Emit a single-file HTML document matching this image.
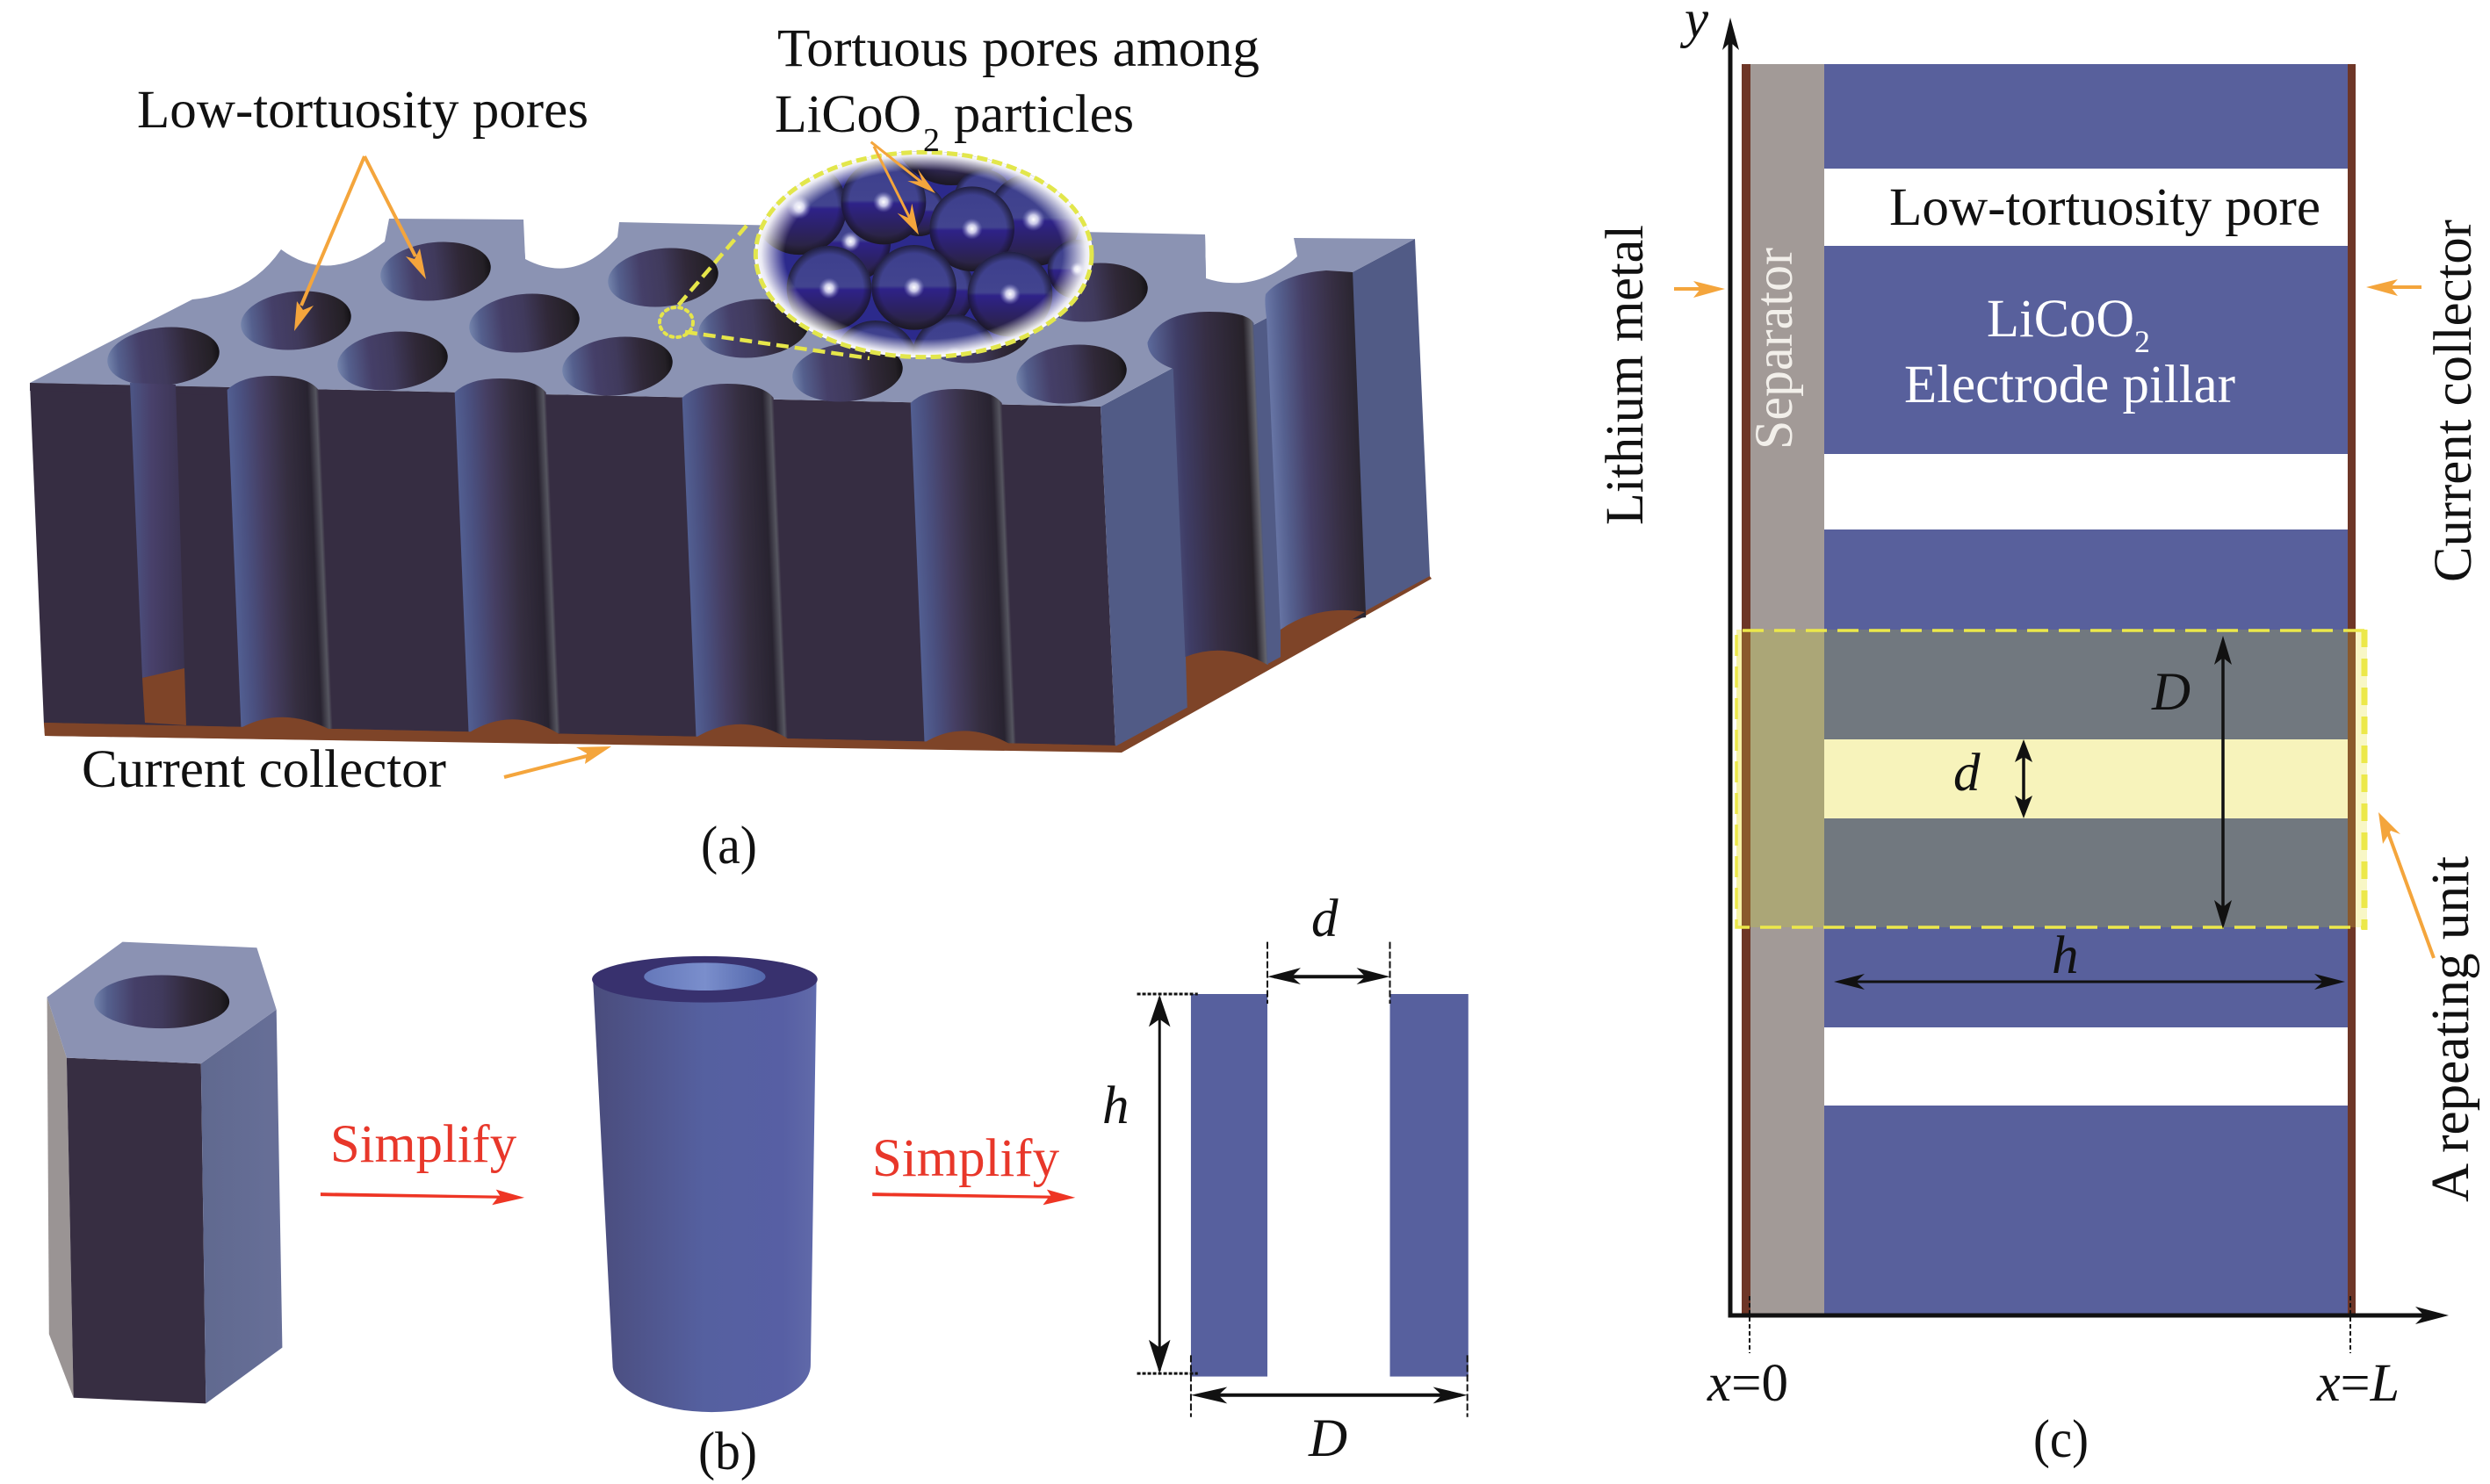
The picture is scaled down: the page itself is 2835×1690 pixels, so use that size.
<!DOCTYPE html>
<html><head><meta charset="utf-8"><title>Low-tortuosity electrode diagram</title>
<style>
html,body{margin:0;padding:0;background:#fff}
svg{display:block}
text{font-family:"Liberation Serif",serif;font-size:61px;fill:#111}
.i{font-style:italic}
.ns{vector-effect:non-scaling-stroke}
</style></head><body>
<svg xmlns="http://www.w3.org/2000/svg" width="2835" height="1690" viewBox="0 0 2835 1690">
<defs>
<linearGradient id="hole"><stop offset="0" stop-color="#7484ac"/><stop offset=".1" stop-color="#55608e"/><stop offset=".3" stop-color="#453f68"/><stop offset=".5" stop-color="#403a5c"/><stop offset=".72" stop-color="#302838"/><stop offset=".93" stop-color="#242026"/><stop offset="1" stop-color="#131115"/></linearGradient>
<linearGradient id="pore"><stop offset="0" stop-color="#525f92"/><stop offset=".15" stop-color="#4a5080"/><stop offset=".35" stop-color="#453e62"/><stop offset=".62" stop-color="#352e40"/><stop offset=".88" stop-color="#282330"/><stop offset=".97" stop-color="#55555f"/><stop offset="1" stop-color="#3a3145"/></linearGradient>
<linearGradient id="p1"><stop offset="0" stop-color="#4c5686"/><stop offset=".4" stop-color="#48406a"/><stop offset="1" stop-color="#3a3350"/></linearGradient>
<linearGradient id="p6"><stop offset="0" stop-color="#5c6a9c"/><stop offset=".28" stop-color="#3f3d66"/><stop offset=".55" stop-color="#362e44"/><stop offset=".9" stop-color="#27222a"/><stop offset=".98" stop-color="#62626a"/><stop offset="1" stop-color="#4e5880"/></linearGradient>
<linearGradient id="p7"><stop offset="0" stop-color="#6a78a8"/><stop offset=".16" stop-color="#55608f"/><stop offset=".42" stop-color="#453f66"/><stop offset=".75" stop-color="#372f44"/><stop offset="1" stop-color="#2a2530"/></linearGradient>
<linearGradient id="hexR"><stop offset="0" stop-color="#60698f"/><stop offset="1" stop-color="#676f98"/></linearGradient>
<linearGradient id="cyl"><stop offset="0" stop-color="#4a4c7c"/><stop offset=".5" stop-color="#5560a0"/><stop offset=".85" stop-color="#575fa4"/><stop offset=".97" stop-color="#5f68a8"/><stop offset="1" stop-color="#5f6cb0"/></linearGradient>
<linearGradient id="cylIn"><stop offset="0" stop-color="#6578ba"/><stop offset=".5" stop-color="#7a8ecc"/><stop offset="1" stop-color="#5468ac"/></linearGradient>
<linearGradient id="sph" x1="0" y1="0" x2="0" y2="1"><stop offset="0" stop-color="#3c3e8c"/><stop offset=".48" stop-color="#42448f"/><stop offset=".52" stop-color="#2e2288"/><stop offset=".75" stop-color="#2c2262"/><stop offset="1" stop-color="#2a2533"/></linearGradient>
<radialGradient id="sphE"><stop offset=".8" stop-color="#15121f" stop-opacity="0"/><stop offset="1" stop-color="#15121f" stop-opacity=".7"/></radialGradient>
<radialGradient id="hl"><stop offset="0" stop-color="#fff"/><stop offset=".4" stop-color="#eeeeff" stop-opacity=".8"/><stop offset="1" stop-color="#8888cc" stop-opacity="0"/></radialGradient>
<radialGradient id="glow"><stop offset=".82" stop-color="#fff" stop-opacity="0"/><stop offset=".96" stop-color="#fff" stop-opacity=".9"/><stop offset="1" stop-color="#fff"/></radialGradient>
<clipPath id="mag"><ellipse cx="755" cy="420" rx="578" ry="352"/></clipPath>
<g id="b"><circle r="145" fill="url(#sph)"/><circle r="145" fill="url(#sphE)"/></g>
<g id="s"><use href="#b"/><circle r="36" fill="url(#hl)"/></g>
<path id="fp" d="M0,16 Q17,0 52,0 Q92,0 104,16 L104,404 L0,404 Z" fill="url(#pore)"/>
</defs>

<!-- PANEL A -->
<polygon points="34,436 1253,463 1270,850 50,825" fill="#362d42"/>
<polygon points="50,823 1270,849 1627,655 1630,659 1277,857 1265,856 51,838" fill="#7e4428"/>
<polygon points="1253,463 1611,272 1628,656 1270,850" fill="#515b86"/>
<path d="M578,273 Q580,255 595,250 L598,295 Q583,290 578,273 Z" fill="#5a6a9a"/>
<path d="M1350,292 Q1352,272 1372,267 L1373,317 Q1352,310 1350,292 Z" fill="#5a6a9a"/>
<path d="M34,436 L219,341 Q285,335 320,284 Q375,325 438,275 L443,249 L596,250 L598,295 Q655,325 703,270 L705,253 L1372,267 L1373,317 Q1430,335 1477,292 L1473,271 L1611,272 L1253,463 Z" fill="#8b93b3"/>
<g fill="url(#hole)">
<ellipse cx="186" cy="406" rx="64" ry="33" transform="rotate(-6 186 406)"/>
<ellipse cx="337" cy="365" rx="63" ry="33" transform="rotate(-6 337 365)"/>
<ellipse cx="496" cy="309" rx="63" ry="33" transform="rotate(-6 496 309)"/>
<ellipse cx="447" cy="411" rx="63" ry="33" transform="rotate(-6 447 411)"/>
<ellipse cx="597" cy="368" rx="63" ry="33" transform="rotate(-6 597 368)"/>
<ellipse cx="755" cy="316" rx="63" ry="33" transform="rotate(-6 755 316)"/>
<ellipse cx="703" cy="417" rx="63" ry="33" transform="rotate(-6 703 417)"/>
<ellipse cx="858" cy="374" rx="63" ry="33" transform="rotate(-6 858 374)"/>
<ellipse cx="965" cy="424" rx="63" ry="33" transform="rotate(-6 965 424)"/>
<ellipse cx="1111" cy="380" rx="63" ry="33" transform="rotate(-6 1111 380)"/>
<ellipse cx="1220" cy="426" rx="63" ry="33" transform="rotate(-6 1220 426)"/>
<ellipse cx="1244" cy="333" rx="63" ry="33" transform="rotate(-6 1244 333)"/>
</g>
<!-- front face mask for hole 1 overflow -->
<polygon points="34,436 260,441 260,450 34,445" fill="#362d42"/>
<!-- front pores -->
<path d="M148,436 L200,438 L210,762 L162,772 Z" fill="url(#p1)"/>
<polygon points="162,772 210,761 212,826 165,823" fill="#7e4428"/>
<use href="#fp" transform="translate(258,428) skewX(2.35)"/>
<use href="#fp" transform="translate(517,431) skewX(2.35)"/>
<use href="#fp" transform="translate(776,437) skewX(2.35)"/>
<use href="#fp" transform="translate(1036,443) skewX(2.35)"/>
<!-- cover pore bottoms below base line with base strip + brown caps -->
<polygon points="50,823 1270,849 1277,857 51,838" fill="#7e4428"/>
<g fill="#7e4428">
<path d="M274,829 Q322,803 378,832 Z"/>
<path d="M533,835 Q585,802 640,838 Z"/>
<path d="M792,840 Q845,808 900,843 Z"/>
<path d="M1052,846 Q1100,816 1158,852 Z"/>
</g>
<!-- right pores -->
<path d="M2,55 Q0,35 2,27 Q22,4 72,0 L102,2 L102,395 L4,409 Z" transform="translate(1438,308) skewX(2.2)" fill="url(#p7)"/>
<path d="M1458,717 Q1500,688 1554,697 L1458,752 Z" fill="#7e4428"/>
<path d="M28,65 Q0,55 0,35 Q15,0 72,0 Q115,0 122,13 L122,402 L28,393 Z" transform="translate(1305,355) skewX(2.4)" fill="url(#p6)"/>
<path d="M1350,748 Q1395,730 1443,757 L1352,814 Z" fill="#7e4428"/>
<!-- orange arrows a -->
<g stroke="#f4a53c" stroke-width="4" fill="none">
<line x1="415" y1="178" x2="343" y2="348"/>
<line x1="415" y1="178" x2="473" y2="292"/>
<line x1="574" y1="885" x2="680" y2="858"/>
</g>
<g fill="#f4a53c">
<polygon points="335,377 338,343 345,353 357,348"/>
<polygon points="485,318 462,292 472,295 478,283"/>
<polygon points="696,850 656,851 668,858 666,870"/>
</g>
<!-- zoom dashes -->
<g fill="none" stroke="#e6e64a" stroke-width="4.5" stroke-dasharray="14 7">
<line x1="850" y1="257" x2="772" y2="348"/>
<line x1="780" y1="378" x2="990" y2="408"/>
</g>
<ellipse cx="770" cy="367" rx="19" ry="17" fill="none" stroke="#e6e64a" stroke-width="4" stroke-dasharray="3 5" stroke-linecap="round"/>

<!-- magnifier -->
<g transform="translate(800,150) scale(.3333)">
<ellipse cx="755" cy="420" rx="578" ry="352" fill="#2c2a8c"/>
<g clip-path="url(#mag)">
<use href="#b" transform="translate(850,-20) scale(1.4)"/>
<use href="#b" transform="translate(960,230) scale(.7)"/>
<use href="#s" transform="translate(1130,300) scale(1.1)"/>
<use href="#s" transform="translate(505,375) scale(.95)"/>
<use href="#s" transform="translate(330,258) scale(1.12)"/>
<use href="#b" transform="translate(740,270) scale(.6)"/>
<use href="#b" transform="translate(790,540) scale(.95)"/>
<use href="#s" transform="translate(1280,470) scale(.7)"/>
<use href="#s" transform="translate(618,240) scale(1)"/>
<use href="#s" transform="translate(920,332)"/>
<use href="#b" transform="translate(590,790)"/>
<use href="#s" transform="translate(860,770)"/>
<use href="#s" transform="translate(432,535)"/>
<use href="#s" transform="translate(1050,555) scale(1)"/>
<use href="#s" transform="translate(722,532)"/>
</g>
<ellipse cx="755" cy="420" rx="578" ry="352" fill="url(#glow)"/>
<ellipse cx="755" cy="420" rx="574" ry="350" fill="none" stroke="#e2e64c" stroke-width="15" stroke-dasharray="36 16"/>
<g stroke="#f4a53c" stroke-width="9" fill="none">
<line x1="575" y1="35" x2="770" y2="190"/>
<line x1="585" y1="50" x2="725" y2="330"/>
</g>
<g fill="#f4a53c">
<polygon points="795,210 700,168 750,170 735,128"/>
<polygon points="738,352 665,278 705,295 715,245"/>
</g>
</g>

<!-- PANEL B -->
<g transform="translate(0,1000) scale(1.116,0.44)">
<polygon points="48,308 68,465 75,1345 50,1180" fill="#9a9494"/>
<polygon points="68,465 205,480 210,1360 75,1345" fill="#372e42"/>
<polygon points="205,480 282,340 288,1215 210,1360" fill="url(#hexR)"/>
<polygon points="125,165 262,180 282,340 205,480 68,465 48,308" fill="#8b92b3"/>
<ellipse cx="165" cy="320" rx="69" ry="69" fill="url(#hole)"/>
<path d="M605,262 L625,1260 A101,122 0 0 0 827,1260 L833,262 Z" fill="url(#cyl)"/>
<ellipse cx="719" cy="262" rx="115" ry="60" fill="#38316e"/>
<ellipse cx="719" cy="255" rx="62" ry="36" fill="url(#cylIn)"/>
<rect x="1215" y="300" width="78" height="990" fill="#57609e"/>
<rect x="1418" y="300" width="80" height="990" fill="#57609e"/>
<g fill="#ee3524">
<polygon points="327,814 510,822 506,806 535,827 502,846 507,829 327,823"/>
<polygon points="890,814 1072,822 1068,806 1097,827 1064,846 1069,829 890,823"/>
</g>
<g stroke="#111" fill="none">
<line class="ns" x1="1160" y1="300" x2="1222" y2="300" stroke-width="3" stroke-dasharray="4 2"/>
<line class="ns" x1="1160" y1="1282" x2="1222" y2="1282" stroke-width="3" stroke-dasharray="4 2"/>
<line class="ns" x1="1293" y1="165" x2="1293" y2="325" stroke-width="2" stroke-dasharray="8 3"/>
<line class="ns" x1="1418" y1="165" x2="1418" y2="325" stroke-width="2" stroke-dasharray="8 3"/>
<line class="ns" x1="1215" y1="1235" x2="1215" y2="1395" stroke-width="2" stroke-dasharray="8 3"/>
<line class="ns" x1="1497" y1="1235" x2="1497" y2="1395" stroke-width="2" stroke-dasharray="8 3"/>
<line class="ns" x1="1183" y1="310" x2="1183" y2="1275" stroke-width="3"/>
<line class="ns" x1="1300" y1="255" x2="1410" y2="255" stroke-width="4"/>
<line class="ns" x1="1225" y1="1338" x2="1490" y2="1338" stroke-width="4"/>
</g>
<g fill="#111">
<polygon points="1183,302 1172,385 1183,365 1194,385"/>
<polygon points="1183,1282 1172,1195 1183,1215 1194,1195"/>
<polygon points="1293,255 1327,232 1318,255 1327,275"/>
<polygon points="1418,255 1384,232 1393,255 1384,275"/>
<polygon points="1215,1338 1252,1317 1243,1338 1252,1360"/>
<polygon points="1497,1338 1462,1317 1471,1338 1462,1360"/>
</g>
</g>

<!-- PANEL C -->
<rect x="1983" y="73" width="10" height="1425" fill="#6e3627"/>
<rect x="1993" y="73" width="84" height="1425" fill="#a29a97"/>
<rect x="2077" y="73" width="596" height="1425" fill="#58609c"/>
<rect x="2673" y="73" width="9" height="1425" fill="#6e3627"/>
<rect x="2077" y="192" width="596" height="88" fill="#fff"/>
<rect x="2077" y="517" width="596" height="86" fill="#fff"/>
<rect x="2077" y="1170" width="596" height="89" fill="#fff"/>
<rect x="2077" y="717" width="596" height="339" fill="#71787f"/>
<rect x="2077" y="842" width="596" height="90" fill="#f7f3bb"/>
<rect x="1993" y="717" width="84" height="339" fill="#aba677"/>
<rect x="1983" y="717" width="10" height="339" fill="#8a5a2c"/>
<rect x="2673" y="717" width="9" height="339" fill="#8a5a2c"/>
<rect x="1977" y="717" width="6" height="339" fill="#f6f3a8"/>
<rect x="2682" y="717" width="13" height="339" fill="#f8f7c6"/>
<path d="M2692,718 H1977 V1056 H2692" fill="none" stroke="#ece84a" stroke-width="3.5" stroke-dasharray="24 12"/>
<line x1="2692" y1="717" x2="2692" y2="1059" stroke="#ece84a" stroke-width="7" stroke-dasharray="20 13"/>
<g stroke="#111" fill="none">
<path d="M1970,40 V1498 H2770" stroke-width="5"/>
<line x1="1992" y1="1476" x2="1992" y2="1541" stroke-width="2" stroke-dasharray="5 3"/>
<line x1="2676" y1="1476" x2="2676" y2="1541" stroke-width="2" stroke-dasharray="5 3"/>
<line x1="2531" y1="736" x2="2531" y2="1046" stroke-width="3.5"/>
<line x1="2304" y1="851" x2="2304" y2="923" stroke-width="3.5"/>
<line x1="2095" y1="1118" x2="2660" y2="1118" stroke-width="3"/>
</g>
<g fill="#111">
<polygon points="1970,20 1961,57 1970,48 1980,57"/>
<polygon points="2788,1498 2750,1488 2760,1498 2750,1508"/>
<polygon points="2531,724 2521,757 2531,749 2541,757"/>
<polygon points="2531,1058 2521,1025 2531,1033 2541,1025"/>
<polygon points="2304,842 2294,868 2304,862 2314,868"/>
<polygon points="2304,932 2294,906 2304,912 2314,906"/>
<polygon points="2088,1118 2123,1109 2113,1118 2123,1127"/>
<polygon points="2670,1118 2635,1109 2645,1118 2635,1127"/>
</g>
<g stroke="#f4a53c" stroke-width="4" fill="none">
<line x1="1906" y1="329" x2="1955" y2="329"/>
<line x1="2757" y1="327" x2="2705" y2="327"/>
<line x1="2771" y1="1091" x2="2716" y2="940"/>
</g>
<g fill="#f4a53c">
<polygon points="1964,329 1928,320 1936,329 1928,339"/>
<polygon points="2694,327 2730,318 2722,327 2730,337"/>
<polygon points="2708,925 2733,950 2722,946 2713,961"/>
</g>

<!-- TEXT -->
<text x="156" y="145" textLength="514" lengthAdjust="spacingAndGlyphs">Low-tortuosity pores</text>
<text x="885" y="75" textLength="549" lengthAdjust="spacingAndGlyphs">Tortuous pores among</text>
<text x="882" y="150" textLength="167" lengthAdjust="spacingAndGlyphs">LiCoO</text>
<text x="1051" y="172" style="font-size:38px">2</text>
<text x="1086" y="150" textLength="205" lengthAdjust="spacingAndGlyphs">particles</text>
<text x="93" y="896" textLength="415" lengthAdjust="spacingAndGlyphs">Current collector</text>
<text x="798" y="983" textLength="64" lengthAdjust="spacingAndGlyphs">(a)</text>
<text x="795" y="1673" textLength="67" lengthAdjust="spacingAndGlyphs">(b)</text>
<text x="376" y="1323" textLength="212" lengthAdjust="spacingAndGlyphs" style="fill:#e8372a">Simplify</text>
<text x="993" y="1339" textLength="213" lengthAdjust="spacingAndGlyphs" style="fill:#e8372a">Simplify</text>
<text class="i" x="1255" y="1279">h</text>
<text class="i" x="1493" y="1066">d</text>
<text class="i" x="1490" y="1658">D</text>

<text class="i" x="1918" y="42">y</text>
<text x="2151" y="256" textLength="491" lengthAdjust="spacingAndGlyphs">Low-tortuosity pore</text>
<text x="2262" y="383" textLength="168" lengthAdjust="spacingAndGlyphs" style="fill:#fff">LiCoO</text>
<text x="2430" y="401" style="font-size:36px;fill:#fff">2</text>
<text x="2168" y="458" textLength="377" lengthAdjust="spacingAndGlyphs" style="fill:#fff">Electrode pillar</text>
<text class="i" x="2450" y="808">D</text>
<text class="i" x="2224" y="900">d</text>
<text class="i" x="2336" y="1108">h</text>
<text x="1944" y="1595" textLength="92" lengthAdjust="spacingAndGlyphs"><tspan class="i">x</tspan>=0</text>
<text x="2638" y="1595" textLength="94" lengthAdjust="spacingAndGlyphs"><tspan class="i">x</tspan>=<tspan class="i">L</tspan></text>
<text x="2315" y="1659" textLength="63" lengthAdjust="spacingAndGlyphs">(c)</text>
<text transform="translate(1870,598) rotate(-90)" textLength="342" lengthAdjust="spacingAndGlyphs">Lithium metal</text>
<text transform="translate(2040,512) rotate(-90)" textLength="230" lengthAdjust="spacingAndGlyphs" style="fill:#f2efea">Separator</text>
<text transform="translate(2813,663) rotate(-90)" textLength="413" lengthAdjust="spacingAndGlyphs">Current collector</text>
<text transform="translate(2810,1369) rotate(-90)" textLength="394" lengthAdjust="spacingAndGlyphs">A repeating unit</text>
</svg>
</body></html>
